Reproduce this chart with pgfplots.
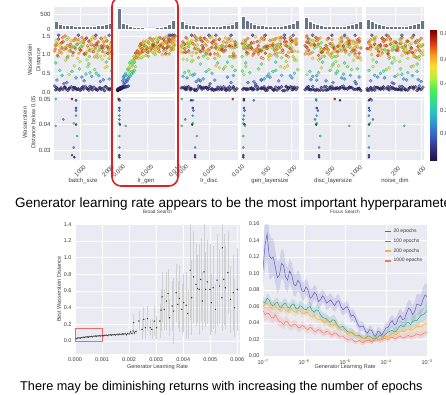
\documentclass[border=0pt]{standalone}
\usepackage{pgfplots}
\pgfplotsset{compat=1.18}
\usepackage{pgfplotstable}
\usepgfplotslibrary{fillbetween}
\usepackage{fontspec}
\setmainfont{Liberation Sans}

\definecolor{snsbg}{RGB}{234,234,242}
\definecolor{tickc}{RGB}{60,60,60}
\definecolor{histc}{RGB}{105,118,138}
\definecolor{redbox}{RGB}{228,30,30}
\definecolor{rectc}{RGB}{235,110,110}
\definecolor{c20}{RGB}{95,95,190}
\definecolor{c100}{RGB}{55,160,150}
\definecolor{c200}{RGB}{250,175,50}
\definecolor{c1000}{RGB}{245,120,100}
\definecolor{cm0}{RGB}{30,20,70}
\definecolor{cm1}{RGB}{50,50,130}
\definecolor{cm2}{RGB}{60,90,190}
\definecolor{cm3}{RGB}{50,140,210}
\definecolor{cm4}{RGB}{40,190,200}
\definecolor{cm5}{RGB}{50,220,140}
\definecolor{cm6}{RGB}{70,240,80}
\definecolor{cm7}{RGB}{180,240,60}
\definecolor{cm8}{RGB}{250,220,50}
\definecolor{cm9}{RGB}{250,150,30}
\definecolor{cm10}{RGB}{220,50,20}
\definecolor{cm11}{RGB}{130,0,0}

\pgfdeclareverticalshading{cbar}{100bp}{color(0bp)=(cm0); color(25bp)=(cm0); color(29.545bp)=(cm1); color(34.09bp)=(cm2); color(38.64bp)=(cm3); color(43.18bp)=(cm4); color(47.73bp)=(cm5); color(52.27bp)=(cm6); color(56.82bp)=(cm7); color(61.36bp)=(cm8); color(65.91bp)=(cm9); color(70.45bp)=(cm10); color(75bp)=(cm11); color(100bp)=(cm11)}

\pgfplotsset{
  colormap={wd}{rgb255=(30,20,70) rgb255=(50,50,130) rgb255=(60,90,190) rgb255=(50,140,210) rgb255=(40,190,200) rgb255=(50,220,140) rgb255=(70,240,80) rgb255=(180,240,60) rgb255=(250,220,50) rgb255=(250,150,30) rgb255=(220,50,20) rgb255=(130,0,0)},
  sns/.style={scale only axis, anchor=south west,
    axis background/.style={fill=snsbg},
    axis line style={draw=none},
    major tick length=0pt, tick style={draw=none},
    grid=major, major grid style={draw=white, line width=0.6pt},
    scaled ticks=false,
    /pgf/number format/assume math mode=true,
    ticklabel style={text=tickc},
    colormap name=wd, point meta min=0, point meta max=1},
  topcol/.style={sns, width=58pt, xmin=0, xmax=100,
    ticklabel style={font=\fontsize{6}{7}\selectfont}},
}

% trials: x columns normalised to 0..100 of each hyperparameter axis
\pgfplotstableread{
a g d l m n w c
3 2 55 80 12 40 0.06 0.02
6 5 20 15 70 90 0.09 0.05
9 1 85 45 33 10 0.05 0.03
12 8 40 92 58 65 0.11 0.08
15 3 10 28 88 25 0.07 0.04
18 12 70 60 5 78 0.13 0.10
21 4 30 8 47 52 0.08 0.02
24 1 95 72 20 5 0.04 0.06
27 6 50 38 95 35 0.10 0.03
30 15 15 85 65 85 0.14 0.12
33 2 78 20 40 60 0.06 0.05
36 9 5 52 78 18 0.12 0.07
39 4 62 3 10 95 0.07 0.04
42 7 88 66 52 45 0.09 0.09
45 2 25 42 28 72 0.05 0.02
48 11 45 97 82 8 0.12 0.08
51 3 72 12 60 30 0.08 0.05
54 18 35 78 15 58 0.15 0.14
57 5 8 30 92 82 0.09 0.03
60 1 58 56 38 15 0.05 0.06
63 8 92 5 72 48 0.10 0.04
66 3 18 88 2 68 0.06 0.02
69 13 65 48 45 98 0.13 0.11
72 5 38 22 85 38 0.08 0.05
75 2 80 62 25 2 0.05 0.03
78 10 2 35 62 75 0.11 0.08
81 4 48 95 8 55 0.07 0.06
84 7 98 18 50 22 0.09 0.04
87 1 28 75 98 88 0.04 0.02
90 16 75 40 35 42 0.14 0.13
93 6 12 10 75 12 0.08 0.05
96 3 60 58 18 62 0.06 0.03
99 9 42 82 55 28 0.11 0.07
1 20 32 25 68 92 0.16 0.15
47 2 68 90 42 50 0.07 0.04
4 6 35 50 80 20 0.12 0.04
11 2 65 22 15 58 0.08 0.06
19 9 12 88 45 82 0.13 0.02
26 4 82 40 68 8 0.10 0.05
34 7 45 65 30 45 0.12 0.03
41 1 25 10 92 68 0.07 0.07
50 11 92 78 8 30 0.14 0.04
58 3 55 35 55 92 0.09 0.02
65 8 8 92 78 15 0.13 0.06
73 2 72 55 22 55 0.07 0.03
80 6 38 18 62 75 0.11 0.05
88 10 85 70 38 38 0.14 0.08
95 4 18 45 95 2 0.09 0.03
62 14 50 28 48 62 0.15 0.10
37 5 78 82 5 25 0.10 0.04
5 16 60 35 22 70 0.32 0.25
14 13 22 70 80 15 0.45 0.35
22 14 88 12 50 45 0.25 0.18
31 26 45 55 10 88 0.55 0.45
38 20 12 88 65 32 0.38 0.28
44 19 75 30 92 60 0.62 0.55
52 10 35 65 38 8 0.30 0.22
58 32 90 8 75 78 0.68 0.60
65 22 5 45 15 50 0.42 0.32
73 15 55 92 55 25 0.50 0.42
80 17 28 22 88 95 0.28 0.20
88 24 68 75 30 40 0.65 0.72
95 12 40 40 70 65 0.35 0.30
10 30 95 60 45 5 0.58 0.50
26 21 18 5 5 55 0.47 0.62
35 27 62 80 60 82 0.70 0.75
48 11 82 50 95 20 0.40 0.26
62 28 8 15 25 72 0.52 0.48
70 18 50 98 82 35 0.60 0.58
85 19 32 35 12 90 0.33 0.24
92 22 78 68 48 12 0.68 0.68
17 12 52 25 90 48 0.22 0.15
55 25 25 48 68 62 0.48 0.40
77 16 92 85 22 80 0.44 0.34
99 21 15 2 58 30 0.56 0.52
2 72 50 62 30 20 1.15 0.85
4 55 12 18 75 58 1.30 0.78
7 33 85 90 52 85 0.95 0.62
8 80 35 40 8 42 1.42 0.92
11 45 68 5 92 12 1.22 0.72
13 62 5 72 40 95 1.05 0.80
16 92 58 28 65 30 1.35 0.88
19 40 92 55 18 68 1.18 0.58
20 27 22 95 85 50 0.85 0.66
23 88 45 12 50 8 1.25 0.82
25 68 78 65 28 78 1.45 0.75
28 35 15 35 72 38 1.10 0.90
29 97 62 82 5 62 1.20 0.65
32 50 95 20 58 22 0.98 0.78
34 60 28 50 95 88 1.38 0.84
37 84 72 8 35 48 1.15 0.55
40 42 8 68 78 15 1.28 0.92
41 38 48 92 15 72 0.90 0.70
43 94 82 38 48 35 1.40 0.80
46 58 38 58 88 92 1.12 0.86
49 76 98 15 22 55 1.22 0.60
50 48 18 85 62 5 1.32 0.76
53 90 65 30 2 82 1.02 0.82
56 57 42 75 42 28 1.44 0.95
59 66 2 45 82 65 1.18 0.74
61 29 88 2 55 40 0.95 0.58
64 99 25 62 12 98 1.26 0.84
67 85 55 25 70 18 1.48 0.70
68 44 75 88 32 75 1.08 0.88
71 52 12 52 92 45 1.20 0.64
74 78 52 10 45 10 1.00 0.78
76 70 95 78 5 85 1.34 0.90
79 96 32 35 68 32 1.14 0.56
82 63 68 95 25 60 1.42 0.82
83 31 5 48 98 92 0.88 0.72
86 39 85 15 60 22 1.24 0.86
89 86 22 68 15 70 1.06 0.62
91 46 48 32 85 50 1.36 0.78
94 59 72 85 40 2 1.16 0.92
97 82 15 5 72 78 1.30 0.68
100 37 60 58 8 38 1.02 0.84
5 64 30 45 45 75 1.26 0.66
10 93 75 25 62 28 1.12 0.80
15 74 10 85 20 62 1.46 0.86
24 54 40 62 35 92 0.96 0.55
30 51 90 5 80 42 1.38 0.74
36 87 55 40 5 8 1.20 0.90
45 24 20 78 55 58 0.82 0.62
51 95 80 22 90 85 1.32 0.82
57 68 2 98 28 35 1.08 0.70
63 98 62 55 65 15 1.40 0.78
69 47 38 30 2 68 1.24 0.88
75 42 92 70 48 48 0.92 0.60
81 89 28 12 75 95 1.44 0.84
87 56 70 88 38 25 1.18 0.76
93 32 45 42 95 72 1.04 0.92
98 79 5 65 18 52 1.28 0.64
3 22 65 8 70 45 0.78 0.48
60 26 35 35 50 88 0.75 0.52
90 30 82 60 32 18 0.80 0.45
8 96 50 42 88 82 1.52 0.08
42 90 20 75 15 35 1.52 0.10
72 99 88 20 48 10 1.52 0.06
95 93 62 90 70 62 1.52 0.12
1 81 40 30 55 65 1.10 0.82
6 36 92 78 25 20 0.98 0.88
12 44 18 55 85 45 1.30 0.72
17 65 68 20 42 90 1.14 0.78
22 72 32 88 10 58 1.40 0.62
27 91 80 42 68 25 1.22 0.84
33 53 10 10 30 80 1.06 0.92
39 61 58 65 90 42 1.28 0.66
44 43 25 28 52 5 1.16 0.86
49 100 85 92 18 70 1.36 0.76
54 66 45 50 78 98 1.00 0.58
58 77 2 8 38 32 1.24 0.82
62 49 72 72 8 52 1.12 0.90
66 58 38 38 62 12 1.42 0.70
70 35 95 82 95 85 0.94 0.80
73 41 22 2 45 60 1.30 0.86
78 95 62 58 28 22 1.20 0.60
84 73 8 25 82 75 1.08 0.84
88 83 52 68 5 40 1.46 0.78
92 62 88 45 58 90 1.22 0.92
96 98 30 15 35 8 1.14 0.74
99 54 75 95 75 48 1.34 0.80
4 69 20 68 15 15 1.38 0.66
14 86 62 12 98 55 1.18 0.88
26 40 38 92 65 72 1.10 0.76
37 76 85 35 22 28 1.44 0.84
47 50 15 80 48 95 1.22 0.56
52 84 52 22 88 38 1.02 0.90
64 66 98 55 12 68 1.30 0.72
71 94 28 5 70 18 1.16 0.82
80 45 68 48 32 82 0.96 0.68
86 88 5 75 95 5 1.34 0.88
94 57 48 28 42 45 1.12 0.78
2 97 88 85 62 92 1.26 0.74
19 100 25 40 5 38 1.50 0.86
31 71 75 62 78 62 1.20 0.80
57 29 12 92 25 12 0.86 0.64
83 80 40 18 52 78 1.18 0.94
97 34 65 52 88 25 0.98 0.70
45 63 95 8 30 88 1.32 0.58
3 64 72 50 38 35 1.24 0.84
9 42 15 82 72 75 1.06 0.78
13 85 55 18 8 52 1.32 0.90
18 50 88 65 55 18 1.18 0.70
23 33 32 35 92 88 0.92 0.82
28 76 62 95 25 42 1.28 0.86
34 58 5 5 62 65 1.20 0.62
39 92 45 58 40 8 1.40 0.80
46 45 78 32 85 55 1.12 0.88
50 70 25 75 15 95 1.26 0.74
55 38 92 12 48 28 1.04 0.84
60 82 38 88 78 72 1.36 0.92
65 55 65 40 30 45 1.14 0.66
71 96 12 60 95 15 1.44 0.82
76 48 50 22 5 85 1.10 0.78
82 74 85 78 68 35 1.24 0.88
87 36 20 48 45 62 0.98 0.72
91 88 58 8 22 92 1.38 0.84
96 60 95 68 88 55 1.20 0.80
99 44 35 30 58 22 1.08 0.90
7 78 42 95 48 5 1.30 0.76
21 52 8 45 35 78 1.16 0.86
32 68 75 15 75 48 1.22 0.58
43 40 28 62 12 68 1.04 0.82
53 90 68 85 92 32 1.40 0.88
63 46 45 28 52 98 1.10 0.74
74 62 95 55 18 25 1.26 0.92
85 84 15 92 82 60 1.34 0.70
95 30 60 38 28 40 0.90 0.80
48 98 35 70 65 80 1.46 0.84
}\trials

\pgfplotstableread{
a g d l m n w c
3 3 3 5 21 7 0.0500 0.45
31 3 91 5 53 8 0.0500 0.95
38 4 19 5 62 5 0.0495 0.05
38 5 22 22 21 10 0.0495 0.25
38 4 22 5 22 5 0.0465 0.12
38 4 23 6 24 6 0.0455 0.22
38 4 22 5 22 5 0.0435 0.32
16 4 9 4 19 12 0.0420 0.28
34 4 22 4 22 7 0.0405 0.55
38 5 21 6 21 5 0.0400 0.08
3 15 3 7 78 66 0.0395 0.45
40 4 29 4 28 5 0.0355 0.45
34 4 26 4 26 5 0.0310 0.30
31 4 26 4 26 5 0.0280 0.10
35 4 26 4 26 5 0.0272 0.05
}\best

\pgfplotstableread{
x y e
0.00005 0.030 0.010
0.00010 0.035 0.010
0.00015 0.038 0.010
0.00020 0.036 0.010
0.00025 0.042 0.010
0.00030 0.045 0.010
0.00035 0.043 0.010
0.00040 0.048 0.010
0.00045 0.050 0.010
0.00050 0.047 0.010
0.00055 0.053 0.010
0.00060 0.055 0.010
0.00065 0.052 0.010
0.00070 0.058 0.010
0.00075 0.060 0.010
0.00080 0.057 0.010
0.00085 0.062 0.010
0.00090 0.065 0.010
0.00095 0.060 0.010
0.00100 0.066 0.012
0.00105 0.063 0.012
0.00110 0.068 0.012
0.00115 0.070 0.012
0.00120 0.066 0.012
0.00125 0.072 0.012
0.00130 0.074 0.012
0.00135 0.070 0.012
0.00140 0.076 0.012
0.00145 0.078 0.012
0.00150 0.073 0.014
0.00155 0.080 0.014
0.00160 0.077 0.014
0.00165 0.083 0.014
0.00170 0.079 0.014
0.00175 0.085 0.014
0.00180 0.082 0.015
0.00185 0.088 0.015
0.00190 0.075 0.015
0.00195 0.090 0.016
0.00200 0.085 0.018
0.00205 0.110 0.025
0.00210 0.092 0.020
0.00215 0.120 0.030
0.00220 0.098 0.025
0.00225 0.115 0.030
0.00217 0.22 0.10
0.00236 0.24 0.12
0.00248 0.14 0.12
0.00254 0.26 0.15
0.00260 0.16 0.12
0.00268 0.27 0.15
0.00278 0.16 0.10
0.00284 0.14 0.12
0.00293 0.24 0.18
0.00302 0.16 0.14
0.00314 0.24 0.20
0.00318 0.37 0.25
0.00322 0.53 0.30
0.00330 0.38 0.25
0.00338 0.48 0.35
0.00344 0.57 0.30
0.00350 0.28 0.22
0.00359 0.42 0.30
0.00365 0.36 0.40
0.00374 0.58 0.35
0.00380 0.44 0.28
0.00386 0.51 0.40
0.00395 0.38 0.30
0.00402 0.46 0.35
0.00411 0.43 0.40
0.00417 0.33 0.30
0.00426 0.85 0.60
0.00431 0.52 0.45
0.00438 0.77 0.55
0.00447 0.68 0.50
0.00453 0.63 0.40
0.00459 0.62 0.55
0.00465 0.74 0.50
0.00471 0.48 0.35
0.00477 0.83 0.60
0.00483 0.62 0.45
0.00489 0.71 0.50
0.00499 0.62 0.55
0.00504 0.46 0.35
0.00511 0.64 0.50
0.00519 0.38 0.30
0.00525 0.73 0.55
0.00535 0.66 0.45
0.00543 0.52 0.40
0.00545 1.12 0.50
0.00550 0.74 0.55
0.00556 0.64 0.50
0.00565 0.82 0.50
0.00575 0.50 0.40
0.00585 0.58 0.45
0.00590 0.40 0.35
0.00600 0.62 0.50
}\broad

\pgfplotstableread{
x a ea b eb c ec d ed
-7.00 0.105 0.025 0.066 0.006 0.060 0.005 0.055 0.008
-6.95 0.135 0.028 0.064 0.006 0.063 0.005 0.050 0.008
-6.90 0.148 0.030 0.070 0.006 0.064 0.005 0.052 0.008
-6.85 0.122 0.028 0.068 0.006 0.060 0.005 0.051 0.008
-6.80 0.118 0.025 0.062 0.006 0.058 0.005 0.047 0.007
-6.75 0.120 0.022 0.061 0.006 0.061 0.005 0.046 0.007
-6.70 0.108 0.020 0.064 0.006 0.061 0.005 0.050 0.007
-6.65 0.095 0.019 0.065 0.006 0.057 0.005 0.045 0.007
-6.60 0.098 0.018 0.060 0.006 0.056 0.005 0.042 0.006
-6.55 0.112 0.018 0.059 0.006 0.058 0.005 0.041 0.006
-6.50 0.110 0.018 0.063 0.006 0.059 0.005 0.038 0.006
-6.45 0.096 0.016 0.064 0.006 0.055 0.005 0.042 0.006
-6.40 0.092 0.015 0.059 0.006 0.054 0.005 0.041 0.006
-6.35 0.103 0.015 0.058 0.006 0.057 0.005 0.037 0.006
-6.30 0.098 0.015 0.062 0.006 0.057 0.005 0.036 0.005
-6.25 0.087 0.014 0.063 0.006 0.054 0.005 0.039 0.005
-6.20 0.085 0.013 0.058 0.006 0.053 0.005 0.038 0.005
-6.15 0.092 0.012 0.057 0.006 0.055 0.005 0.035 0.005
-6.10 0.088 0.012 0.061 0.006 0.055 0.005 0.034 0.005
-6.05 0.079 0.011 0.060 0.006 0.052 0.005 0.037 0.005
-6.00 0.078 0.011 0.057 0.006 0.051 0.005 0.036 0.005
-5.95 0.084 0.010 0.056 0.006 0.053 0.005 0.033 0.005
-5.90 0.080 0.010 0.059 0.006 0.053 0.005 0.032 0.005
-5.85 0.070 0.010 0.060 0.006 0.049 0.005 0.035 0.005
-5.80 0.072 0.010 0.055 0.006 0.048 0.005 0.033 0.005
-5.75 0.077 0.009 0.053 0.006 0.049 0.005 0.030 0.004
-5.70 0.075 0.009 0.056 0.006 0.046 0.005 0.030 0.004
-5.65 0.066 0.009 0.055 0.006 0.044 0.005 0.032 0.004
-5.60 0.068 0.009 0.050 0.006 0.044 0.005 0.031 0.004
-5.55 0.073 0.008 0.047 0.006 0.043 0.005 0.028 0.004
-5.50 0.070 0.008 0.046 0.006 0.040 0.005 0.028 0.004
-5.45 0.064 0.008 0.045 0.006 0.043 0.005 0.030 0.004
-5.40 0.066 0.008 0.042 0.006 0.042 0.005 0.029 0.004
-5.35 0.068 0.008 0.041 0.006 0.038 0.005 0.026 0.004
-5.30 0.064 0.008 0.044 0.006 0.036 0.005 0.026 0.004
-5.25 0.061 0.008 0.043 0.006 0.039 0.005 0.028 0.004
-5.20 0.066 0.008 0.038 0.006 0.038 0.005 0.027 0.004
-5.15 0.067 0.007 0.035 0.005 0.034 0.004 0.024 0.004
-5.10 0.060 0.007 0.035 0.005 0.032 0.004 0.024 0.004
-5.05 0.056 0.007 0.036 0.005 0.033 0.004 0.024 0.004
-5.00 0.058 0.007 0.033 0.005 0.030 0.004 0.022 0.004
-4.95 0.060 0.007 0.030 0.005 0.027 0.004 0.020 0.004
-4.90 0.055 0.007 0.029 0.005 0.027 0.004 0.020 0.004
-4.85 0.048 0.007 0.029 0.005 0.029 0.004 0.021 0.003
-4.80 0.050 0.007 0.027 0.005 0.028 0.004 0.019 0.003
-4.75 0.046 0.006 0.025 0.004 0.025 0.004 0.017 0.003
-4.70 0.040 0.006 0.025 0.004 0.024 0.004 0.018 0.003
-4.65 0.035 0.006 0.025 0.004 0.024 0.004 0.019 0.003
-4.60 0.036 0.006 0.023 0.004 0.022 0.004 0.017 0.003
-4.55 0.036 0.005 0.021 0.004 0.021 0.004 0.016 0.003
-4.50 0.030 0.005 0.022 0.004 0.021 0.004 0.018 0.003
-4.45 0.028 0.005 0.024 0.004 0.022 0.004 0.019 0.003
-4.40 0.032 0.005 0.024 0.004 0.020 0.004 0.019 0.003
-4.35 0.031 0.005 0.022 0.004 0.019 0.004 0.017 0.003
-4.30 0.026 0.005 0.021 0.004 0.021 0.004 0.019 0.003
-4.25 0.024 0.005 0.021 0.004 0.022 0.004 0.021 0.003
-4.20 0.030 0.005 0.023 0.004 0.022 0.004 0.020 0.003
-4.15 0.029 0.005 0.025 0.004 0.020 0.004 0.019 0.003
-4.10 0.025 0.005 0.024 0.004 0.021 0.004 0.020 0.003
-4.05 0.030 0.005 0.024 0.004 0.023 0.004 0.021 0.003
-4.00 0.034 0.006 0.027 0.004 0.024 0.004 0.021 0.003
-3.95 0.035 0.006 0.029 0.005 0.023 0.004 0.020 0.003
-3.90 0.040 0.007 0.030 0.005 0.025 0.004 0.022 0.003
-3.85 0.043 0.007 0.031 0.005 0.027 0.004 0.023 0.003
-3.80 0.038 0.008 0.029 0.005 0.027 0.004 0.021 0.003
-3.75 0.039 0.008 0.030 0.005 0.026 0.004 0.021 0.003
-3.70 0.046 0.008 0.034 0.005 0.028 0.004 0.023 0.003
-3.65 0.049 0.009 0.037 0.006 0.030 0.005 0.024 0.003
-3.60 0.044 0.009 0.036 0.006 0.030 0.005 0.022 0.003
-3.55 0.045 0.009 0.036 0.006 0.029 0.005 0.022 0.003
-3.50 0.052 0.010 0.040 0.006 0.032 0.005 0.024 0.004
-3.45 0.058 0.010 0.041 0.006 0.033 0.005 0.025 0.004
-3.40 0.056 0.011 0.038 0.007 0.031 0.005 0.023 0.004
-3.35 0.050 0.011 0.042 0.007 0.032 0.005 0.024 0.004
-3.30 0.054 0.012 0.043 0.007 0.034 0.005 0.025 0.004
-3.25 0.063 0.012 0.043 0.007 0.036 0.005 0.027 0.004
-3.20 0.062 0.013 0.046 0.008 0.036 0.006 0.026 0.004
-3.15 0.061 0.013 0.049 0.008 0.035 0.006 0.025 0.004
-3.10 0.068 0.014 0.050 0.008 0.037 0.006 0.027 0.004
-3.05 0.074 0.014 0.052 0.008 0.039 0.006 0.028 0.004
-3.00 0.072 0.015 0.056 0.009 0.040 0.006 0.029 0.005
}\focus

% #1 left x, #2 xticks, #3 tick labels, #4 hist, #5 column, #6 label, #7 extra
\newcommand{\topcol}[7]{%
\begin{axis}[topcol, at={(#1pt,365pt)}, height=22pt, ymin=0, ymax=748,
  ytick={0,500}, xtick={#2}, xticklabels={}, #7]
\addplot[ybar, bar width=6.67, fill=histc, draw=white, line width=0.4pt] coordinates {#4};
\end{axis}
\begin{axis}[topcol, at={(#1pt,300pt)}, height=63pt, ymin=-0.053, ymax=1.634,
  ytick={0,0.5,1,1.5}, xtick={#2}, xticklabels={},
  yticklabel style={/pgf/number format/fixed, /pgf/number format/fixed zerofill, /pgf/number format/precision=1}, #7]
\addplot[scatter, only marks, mark=*, mark size=1.55pt, scatter src=explicit,
  mark options={fill opacity=0.55, draw opacity=0.85, line width=0.3pt}]
  table[x=#5, y=w, meta=c]{\trials};
\end{axis}
\begin{axis}[topcol, at={(#1pt,234pt)}, height=63pt, ymin=0.0261, ymax=0.0508,
  ytick={0.03,0.04,0.05}, xtick={#2}, xticklabels={#3},
  yticklabel style={/pgf/number format/fixed, /pgf/number format/fixed zerofill, /pgf/number format/precision=2},
  xticklabel style={yshift=-11pt, rotate=45, anchor=center},
  xlabel={#6}, xlabel style={font=\fontsize{6}{7}\selectfont, text=tickc, at={(axis description cs:0.5,-0.333)}, anchor=center}, #7]
\addplot[scatter, only marks, mark=*, mark size=1.1pt, scatter src=explicit,
  mark options={fill opacity=0.8, line width=0.3pt}]
  table[x=#5, y=w, meta=c]{\best};
\end{axis}}

\begin{document}
\begin{tikzpicture}
\topcol{54}{45,93}{1000,2000}{(3.33,262) (10,170) (16.67,135) (23.33,125) (30,115) (36.67,105) (43.33,100) (50,95) (56.67,95) (63.33,100) (70,105) (76.67,115) (83.33,130) (90,150) (96.67,190)}{a}{batch\_size}{}
\topcol{117}{3,51.5,100}{0.000,0.005,0.010}{(3.33,720) (10,190) (16.67,150) (23.33,80) (30,60) (36.67,50) (43.33,45) (50,40) (56.67,40) (63.33,40) (70,45) (76.67,55) (83.33,80) (90,150) (96.67,285)}{g}{lr\_gen}{yticklabels={}}
\topcol{180}{3,50,100}{0.000,0.005,0.010}{(3.33,260) (10,170) (16.67,140) (23.33,115) (30,100) (36.67,90) (43.33,85) (50,85) (56.67,85) (63.33,90) (70,100) (76.67,115) (83.33,140) (90,175) (96.67,260)}{d}{lr\_disc}{yticklabels={}}
\topcol{241}{43,86}{500,1000}{(3.33,420) (10,300) (16.67,230) (23.33,170) (30,140) (36.67,115) (43.33,100) (50,90) (56.67,90) (63.33,95) (70,110) (76.67,130) (83.33,160) (90,200) (96.67,285)}{l}{gen\_layersize}{yticklabels={}}
\topcol{304}{45,90}{500,1000}{(3.33,400) (10,260) (16.67,190) (23.33,150) (30,120) (36.67,100) (43.33,90) (50,85) (56.67,85) (63.33,95) (70,110) (76.67,135) (83.33,170) (90,210) (96.67,260)}{m}{disc\_layersize}{yticklabels={}}
\topcol{366}{51,95}{200,400}{(3.33,340) (10,260) (16.67,190) (23.33,150) (30,120) (36.67,105) (43.33,95) (50,90) (56.67,90) (63.33,95) (70,110) (76.67,130) (83.33,160) (90,190) (96.67,300)}{n}{noise\_dim}{yticklabels={}}

% y labels of the pair plot
\node[rotate=90, align=center, font=\fontsize{5.8}{8.5}\selectfont, text=tickc] at (34pt,334pt) {Wasserstein\\Distance};
\node[rotate=90, align=center, font=\fontsize{5.8}{8.5}\selectfont, text=tickc] at (29pt,271.5pt) {Wasserstein\\Distance below 0.05};

% colour bar
\path[shading=cbar] (430pt,234pt) rectangle (437pt,363pt);
\foreach \yy/\tt in {361/0.8,335/0.6,311/0.4,284/0.2,261/0.0}
  \node[anchor=west, inner sep=0pt, font=\fontsize{6}{7}\selectfont, text=tickc] at (440pt,\yy pt) {\tt};

% Broad search
\begin{axis}[sns, at={(75pt,40pt)}, width=165pt, height=130pt,
  xmin=0, xmax=0.0061, ymin=-0.156, ymax=1.405,
  xtick={0,0.001,0.002,0.003,0.004,0.005,0.006},
  ytick={0,0.2,0.4,0.6,0.8,1.0,1.2,1.4},
  ticklabel style={font=\fontsize{5.5}{6}\selectfont},
  xticklabel style={/pgf/number format/fixed, /pgf/number format/fixed zerofill, /pgf/number format/precision=3},
  yticklabel style={/pgf/number format/fixed, /pgf/number format/fixed zerofill, /pgf/number format/precision=1},
  title={Broad Search}, title style={font=\fontsize{4.8}{5}\selectfont, text=tickc, at={(0.5,1)}, anchor=south, yshift=0.5pt},
  xlabel={Generator Learning Rate}, xlabel style={font=\fontsize{5.5}{6}\selectfont, text=tickc, at={(axis description cs:0.5,-0.1)}, anchor=center},
  ylabel={Best Wasserstein Distance}, ylabel style={font=\fontsize{5.5}{6}\selectfont, text=tickc, at={(axis description cs:-0.097,0.5)}, anchor=center}]
\addplot[only marks, mark=*, mark size=0.45pt, color=black!75,
  error bars/.cd, y dir=both, y explicit, error mark=none,
  error bar style={color=black!18, line width=0.5pt}]
  table[x=x, y=y, y error=e]{\broad};
\addplot[mark=none, draw=rectc, line width=0.8pt] coordinates {(0,0) (0.001,0) (0.001,0.155) (0,0.155) (0,0)};
\end{axis}

% Focus search
\begin{axis}[sns, at={(263pt,38pt)}, width=164pt, height=132pt,
  xmin=-7, xmax=-3, ymin=0, ymax=0.16,
  xtick={-7,-6,-5,-4,-3},
  xticklabels={10\textsuperscript{−7},10\textsuperscript{−6},10\textsuperscript{−5},10\textsuperscript{−4},10\textsuperscript{−3}},
  ytick={0,0.02,0.04,0.06,0.08,0.10,0.12,0.14,0.16},
  ticklabel style={font=\fontsize{5.5}{6}\selectfont},
  yticklabel style={/pgf/number format/fixed, /pgf/number format/fixed zerofill, /pgf/number format/precision=2},
  title={Focus Search}, title style={font=\fontsize{4.8}{5}\selectfont, text=tickc, at={(0.5,1)}, anchor=south, yshift=0.5pt},
  xlabel={Generator Learning Rate}, xlabel style={font=\fontsize{5.5}{6}\selectfont, text=tickc, at={(axis description cs:0.5,-0.083)}, anchor=center},
  legend style={draw=none, fill=none, font=\fontsize{5}{6}\selectfont, text=tickc, at={(0.99,0.985)}, anchor=north east, row sep=0.6pt, inner sep=1pt},
  legend cell align=left,
  legend image code/.code={\draw[line width=1.4pt] (0pt,0pt) -- (6pt,0pt);}]
\addplot[name path=ha, draw=none, forget plot] table[x=x, y expr=\thisrow{a}+\thisrow{ea}]{\focus};
\addplot[name path=la, draw=none, forget plot] table[x=x, y expr=\thisrow{a}-\thisrow{ea}]{\focus};
\addplot[fill=c20, fill opacity=0.18, forget plot] fill between[of=ha and la];
\addplot[name path=hb, draw=none, forget plot] table[x=x, y expr=\thisrow{b}+\thisrow{eb}]{\focus};
\addplot[name path=lb, draw=none, forget plot] table[x=x, y expr=\thisrow{b}-\thisrow{eb}]{\focus};
\addplot[fill=c100, fill opacity=0.18, forget plot] fill between[of=hb and lb];
\addplot[name path=hc, draw=none, forget plot] table[x=x, y expr=\thisrow{c}+\thisrow{ec}]{\focus};
\addplot[name path=lc, draw=none, forget plot] table[x=x, y expr=\thisrow{c}-\thisrow{ec}]{\focus};
\addplot[fill=c200, fill opacity=0.18, forget plot] fill between[of=hc and lc];
\addplot[name path=hd, draw=none, forget plot] table[x=x, y expr=\thisrow{d}+\thisrow{ed}]{\focus};
\addplot[name path=ld, draw=none, forget plot] table[x=x, y expr=\thisrow{d}-\thisrow{ed}]{\focus};
\addplot[fill=c1000, fill opacity=0.18, forget plot] fill between[of=hd and ld];
\addplot[c20, line width=0.5pt, mark=none] table[x=x, y=a]{\focus};
\addlegendentry{20 epochs}
\addplot[c100, line width=0.5pt, mark=none] table[x=x, y=b]{\focus};
\addlegendentry{100 epochs}
\addplot[c200, line width=0.5pt, mark=none] table[x=x, y=c]{\focus};
\addlegendentry{200 epochs}
\addplot[c1000, line width=0.5pt, mark=none] table[x=x, y=d]{\focus};
\addlegendentry{1000 epochs}
\end{axis}

% highlight box and captions
\draw[draw=redbox, line width=1.6pt, rounded corners=9pt] (112pt,208pt) rectangle (178pt,397pt);
\node[anchor=base west, inner sep=0pt, font=\fontsize{13.5}{15}\selectfont] at (15pt,187pt) {Generator learning rate appears to be the most important hyperparameter};
\node[anchor=base west, inner sep=0pt, font=\fontsize{12.7}{14}\selectfont] at (20pt,3.5pt) {There may be diminishing returns with increasing the number of epochs};

\pgfresetboundingbox
\path[use as bounding box] (0pt,0pt) rectangle (446pt,394pt);
\end{tikzpicture}
\end{document}
